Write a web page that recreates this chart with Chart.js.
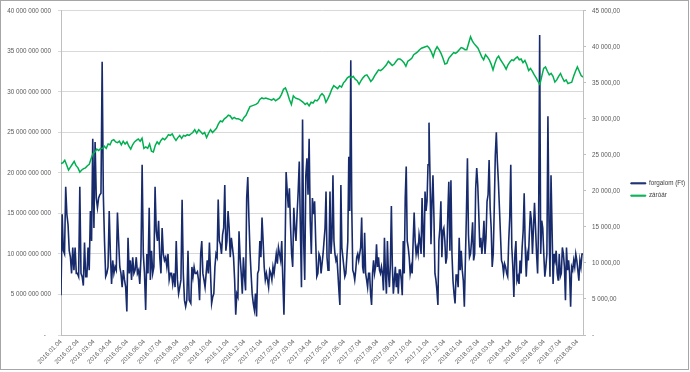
<!DOCTYPE html>
<html><head><meta charset="utf-8">
<script src="https://cdn.jsdelivr.net/npm/chart.js@4/dist/chart.umd.min.js"></script>
<style>
html,body{margin:0;padding:0;background:#fff;}
#wrap{position:relative;width:690px;height:372px;}
#frame{position:absolute;left:0;top:0;width:687px;height:368px;border:1px solid #a6a6a6;pointer-events:none;}
</style></head><body>
<div id="wrap"><canvas id="c" width="690" height="372"></canvas><div id="frame"></div></div>
<script>
// X-axis tick labels (monthly)
const monthLabels = ['2016.01.04','2016.02.04','2016.03.04','2016.04.04','2016.05.04','2016.06.04','2016.07.04','2016.08.04','2016.09.04','2016.10.04','2016.11.04','2016.12.04',
  '2017.01.04','2017.02.04','2017.03.04','2017.04.04','2017.05.04','2017.06.04','2017.07.04','2017.08.04','2017.09.04','2017.10.04','2017.11.04','2017.12.04',
  '2018.01.04','2018.02.04','2018.03.04','2018.04.04','2018.05.04','2018.06.04','2018.07.04','2018.08.04'];

// Date periods covered by each chunk of readings (values evenly spaced within each)
const periods = [['2016-01-04','2016-08-25'],['2016-08-28','2017-04-19'],['2017-04-21','2017-12-12'],['2017-12-14','2018-08-14']];

// forgalom (Ft), in billions (milliárd Ft)
const forgalomMrd1 = [4.9,14.9,10.4,10.0,18.3,14.9,13.6,10.4,9.6,7.6,10.8,8.0,10.8,7.6,7.6,7.2,18.3,7.6,7.2,6.1,11.4,7.2,7.2,10.8,8.0,15.3,11.6,24.2,13.2,23.8,16.9,15.7,16.9,17.3,17.5,33.7,17.3,11.6,7.2,7.6,8.4,15.3,10.0,6.3,9.2,7.6,8.4,8.0,15.1,11.6,8.4,7.6,5.9,8.0,6.8,5.9,2.9,12.0,7.6,9.2,6.8,9.6,7.6,8.0,9.6,7.6,8.0,6.3,9.6,21.0,10.0,7.6,3.1,10.0,7.6,15.7,6.8,10.4,7.6,8.4,18.3,12.8,11.6,14.1,9.6,7.6,13.2,10.0,9.2,9.6,8.4,10.0,6.8,7.6,7.6,6.3,7.6,5.9,11.6,6.8,5.1,5.9,6.8,16.7,7.6,4.3,3.5,4.3,10.4,4.3];
const forgalomMrd2 = [3.9,8.4,7.2,8.4,7.6,7.6,7.8,6.8,4.3,10.0,11.6,7.6,6.8,5.9,7.6,9.2,7.6,11.4,7.6,3.9,4.7,5.1,8.4,10.0,9.6,16.7,11.6,11.2,10.0,12.4,13.2,18.5,10.4,11.6,15.3,13.2,9.6,12.0,10.8,9.6,6.8,2.5,5.1,4.7,12.8,9.6,7.6,5.1,9.6,7.2,5.5,16.9,19.5,14.5,10.4,7.6,5.1,3.9,3.1,5.1,2.3,7.6,8.0,11.6,9.6,14.5,11.6,8.4,6.8,7.6,6.8,5.9,8.0,7.6,6.8,8.4,7.6,8.8,10.0,8.8,10.8,10.0,9.2,11.6,6.8,2.5,10.0,20.1,17.7,15.7,18.1,13.6,10.0,8.4,15.7,13.2,11.6,14.9,17.7,21.4,13.2,5.9,26.6,11.6,6.8,19.7,21.8,17.3,24.2,14.1,10.0,16.9,14.9,16.5,11.6,7.2,7.6,10.0];
const forgalomMrd3 = [9.6,7.6,8.8,10.0,11.6,13.2,17.7,9.6,8.0,10.0,17.7,10.0,12.0,19.7,11.6,10.0,9.2,9.6,7.6,5.5,3.7,18.5,10.8,9.6,8.4,7.2,7.6,9.6,11.6,22.0,15.3,33.9,15.7,8.0,7.6,6.8,8.0,9.6,10.0,9.2,10.0,10.8,14.5,8.4,7.6,12.6,7.6,6.8,5.9,7.6,7.6,5.1,3.7,7.6,9.2,7.6,8.4,11.2,8.4,9.6,8.0,7.6,8.4,7.6,5.5,12.0,7.6,5.1,11.6,7.6,5.9,8.8,15.9,8.4,5.1,6.8,8.4,5.9,7.6,5.1,8.0,8.0,6.8,4.9,11.6,7.6,16.9,20.8,11.6,10.8,9.6,7.6,8.4,7.6,11.6,15.1,11.6,10.0,10.8,10.0,12.4,11.6,10.0,16.9,12.8,9.6,17.7,15.3,16.5,21.0,26.2,19.7,11.2,16.5,19.7,14.5,7.6,6.8,5.5,3.7,11.6,13.2,16.5,9.6,12.8,13.2,11.6,8.8,9.6,14.9,18.9];
const forgalomMrd4 = [10.4,19.1,10.0,6.7,5.1,3.9,7.4,7.4,5.9,12.0,8.0,10.4,8.0,6.7,3.5,9.2,14.9,21.8,12.4,9.6,10.0,11.6,13.9,9.2,10.0,18.1,20.6,18.5,14.9,10.8,12.0,10.0,11.6,14.1,10.0,12.0,16.5,17.3,21.6,15.7,13.2,8.4,10.0,15.7,22.2,25.0,21.4,18.9,15.7,12.4,9.2,8.8,7.6,8.8,8.4,7.6,7.2,11.6,14.5,21.0,10.8,8.4,4.7,10.0,11.6,6.7,7.2,6.3,9.2,7.6,10.8,12.8,17.5,10.8,7.2,10.0,9.2,12.4,15.3,14.1,10.0,13.2,16.3,13.2,10.0,7.6,14.1,37.0,10.0,14.1,13.2,10.0,7.2,8.4,10.0,27.0,14.1,7.2,19.7,13.2,6.3,10.0,9.2,10.4,7.6,6.7,10.0,7.2,7.6,10.8,10.0,8.4,4.3,10.8,8.0,9.2,7.6,3.5,8.4,8.0,9.2,8.4,10.0,9.2,8.0,6.7,9.2,8.4,10.0,10.0];

// záróár (Ft)
const zaroar1 = [23800,23900,24250,23600,22900,23300,23700,24100,23500,23200,22600,22900,23100,23200,23500,23700,24500,25200,25400,25800,25600,25900,25900,26200,25900,26500,26400,27000,27100,26800,26700,26900,26400,26900,26500,26800,26200,25800,26400,26800,27000,27200,26900,27300,25900,26100,25900,26500,25500,25400,26300,26800,26500,27000,27300,27100,27400,27800,27700,27900,27400,27000,27400,27700,27300,27700,27600,27800,27700];
const zaroar2 = [27900,28100,28500,28000,28500,28200,27900,28100,27400,28000,28500,28100,28400,28700,29300,29700,29600,30000,30200,30500,30400,30000,30200,30000,30000,29900,29700,30200,30500,31100,31700,31800,31900,32000,32200,32700,32900,32800,32900,32800,32700,32600,32800,32500,32700,32900,33400,34100,34300,33600,32700,32000,33200,32900,32800,32700,32500,32300,32000,32200,31800,32300,32200,32600,32500,32800];
const zaroar3 = [33200,33500,33200,32300,32800,33400,34100,34600,34400,34200,34600,34400,35000,35300,35700,35900,35700,35900,35500,35300,34800,35300,35700,36000,36100,35700,35200,35500,36000,36400,36800,36700,36900,37200,37500,38000,37700,37400,37600,38000,38300,38300,38100,37800,37300,38000,38200,38400,38900,39100,39300,39600,39800,39900,40000,40100,39800,39300,38600,39500,40000,39600,39100,38400,37600,37700,38400];
const zaroar4 = [38600,38900,39200,39100,39300,39600,39900,39800,39600,39600,40500,41400,40800,40400,40100,39800,39200,38600,38200,38900,38600,38200,37600,36800,37700,38400,38700,38200,37800,37400,36900,37500,37900,38200,38100,38400,38600,38200,38300,37800,38100,37500,36700,37000,36600,36100,35700,35200,34800,35900,37000,37200,36600,36100,36300,35900,35100,35400,35900,36300,35700,35200,35400,34900,35000,35100,35900,36600,37200,36600,36000,35800];

const BASE = Date.UTC(2016, 0, 4);
function dayOf(s) {
  const p = s.split(/[-.]/).map(Number);
  return (Date.UTC(p[0], p[1] - 1, p[2]) - BASE) / 86400000;
}
function build(chunks, mult) {
  const out = [];
  chunks.forEach((arr, k) => {
    const a = dayOf(periods[k][0]), b = dayOf(periods[k][1]);
    arr.forEach((v, i) => out.push({x: a + (b - a) * i / (arr.length - 1), y: v * mult}));
  });
  return out;
}
const fmt = v => String(Math.round(v)).replace(/\B(?=(\d{3})+(?!\d))/g, ' ');

const FONT = {family: "'Liberation Sans', Arial, sans-serif", size: 6.3};
Chart.defaults.font.family = FONT.family;
Chart.defaults.font.size = FONT.size;
Chart.defaults.color = '#595959';

const NAVY = '#172a6c', GREEN = '#00b050';
const PAD_R = -5;

new Chart(document.getElementById('c'), {
  type: 'line',
  data: {
    datasets: [
      {label: 'forgalom (Ft)', data: build([forgalomMrd1, forgalomMrd2, forgalomMrd3, forgalomMrd4], 1e9),
       borderColor: NAVY, backgroundColor: NAVY, borderWidth: 1.6, pointRadius: 0, tension: 0, yAxisID: 'y', order: 1},
      {label: 'záróár', data: build([zaroar1, zaroar2, zaroar3, zaroar4], 1),
       borderColor: GREEN, backgroundColor: GREEN, borderWidth: 1.5, pointRadius: 0, tension: 0, yAxisID: 'y1', order: 0}
    ]
  },
  options: {
    responsive: false,
    animation: false,
    events: [],
    layout: {padding: {left: 6, right: PAD_R, top: 7, bottom: 0}},
    plugins: {
      tooltip: {enabled: false},
      legend: {
        position: 'right', align: 'center',
        labels: {
          boxWidth: 15, boxHeight: 1, padding: 6, color: '#404040', font: FONT,
          sort: (a, b) => a.datasetIndex - b.datasetIndex,
          generateLabels: (chart) => Chart.defaults.plugins.legend.labels.generateLabels(chart).map(l => Object.assign(l, {lineWidth: 1}))
        }
      }
    },
    scales: {
      x: {
        type: 'linear', bounds: 'data',
        min: dayOf(periods[0][0]), max: dayOf(periods[3][1]),
        afterBuildTicks: s => { s.ticks = monthLabels.map(l => ({value: dayOf(l)})); },
        afterFit: s => { s.height = 37; },
        grid: {display: false, drawTicks: false},
        border: {display: true, color: '#bfbfbf', width: 1},
        ticks: {autoSkip: false, minRotation: 45, maxRotation: 45, padding: 3, font: FONT,
          callback: (v, i) => monthLabels[i]}
      },
      y: {
        position: 'left', min: 0, max: 40e9,
        afterFit: s => { s.width = 55; },
        grid: {color: '#d9d9d9', lineWidth: 1, tickLength: 3},
        border: {display: true, color: '#bfbfbf'},
        ticks: {stepSize: 5e9, padding: 7, font: FONT, callback: v => v === 0 ? '-   ' : fmt(v)}
      },
      y1: {
        position: 'right', min: 0, max: 45000,
        afterFit: s => { const lw = s.chart.legend ? s.chart.legend.width : 68; s.width = Math.max(30, s.chart.width - PAD_R - 583 - lw); },
        grid: {drawOnChartArea: false, color: '#bfbfbf', tickLength: 3},
        border: {display: true, color: '#bfbfbf'},
        ticks: {stepSize: 5000, padding: 6, font: FONT, callback: v => v === 0 ? '-' : fmt(v) + ',00'}
      }
    }
  }
});
</script>
</body></html>
